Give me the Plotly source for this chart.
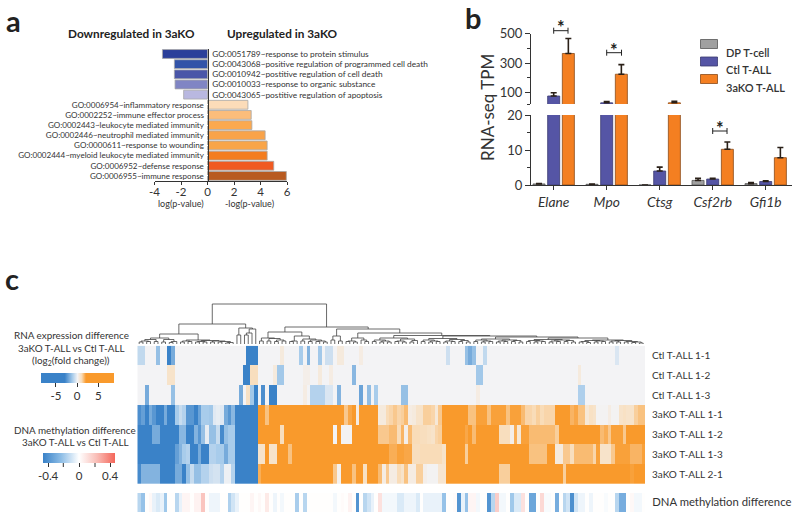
import plotly.graph_objects as go

FONT = "Lato"
INK = "#333333"

# panel a
go_down = [
    "GO:0051789~response to protein stimulus",
    "GO:0043068~positive regulation of programmed cell death",
    "GO:0010942~postitive regulation of cell death",
    "GO:0010033~response to organic substance",
    "GO:0043065~postitive regulation of apoptosis",
]
go_up = [
    "GO:0006954~inflammatory response",
    "GO:0002252~immune effector process",
    "GO:0002443~leukocyte mediated immunity",
    "GO:0002446~neutrophil mediated immunity",
    "GO:0000611~response to wounding",
    "GO:0002444~myeloid leukocyte mediated immunity",
    "GO:0006952~defense response",
    "GO:0006955~immune response",
]
down_vals = [-3.4, -2.5, -2.5, -2.45, -1.8]
up_vals = [3.05, 3.3, 3.35, 4.35, 4.5, 4.5, 5.0, 5.95]
down_colors = ["#2b3f9a", "#3253a8", "#4a56a8", "#8085c4", "#b9b8e0"]
up_colors = ["#fcdcb9", "#fbbd7b", "#fba94f", "#f9a349", "#f9a548", "#f47d1f", "#f05a22", "#b85a20"]

# panel b
genes = ["<i>Elane</i>", "<i>Mpo</i>", "<i>Ctsg</i>", "<i>Csf2rb</i>", "<i>Gfi1b</i>"]
dp_vals = [0.3, 0.2, 0, 1.3, 0.4]
dp_err = [0.1, 0.05, 0, 0.6, 0.3]
ctl_vals = [78, 32, 4, 1.7, 1.0]
ctl_err = [22, 8, 1.1, 0.2, 0.2]
ko_vals = [365, 225, 32, 10.2, 7.8]
ko_err = [101, 65, 11, 2.1, 2.9]

# panel c
row_labels = ["Ctl T-ALL 1-1", "Ctl T-ALL 1-2", "Ctl T-ALL 1-3",
              "3aKO T-ALL 1-1", "3aKO T-ALL 1-2", "3aKO T-ALL 1-3", "3aKO T-ALL 2-1"]
ctl_1_1 = [
    -.8, -.8, 0, 0, 0, -1.5, 0, 0, -3, -2,
    0, 0, 0, 0, 0, 0, 0, 0, 0, 0,
    0, 0, 0, 0, 0, 0, 0, 0, 0, -3,
    -3, -3, 0, 0, 0, 0, 0, 0, .4, 0,
    0, 0, 0, -1.2, 0, -1.8, 0, 0, -1.3, 0,
    -.6, -.6, 0, .4, .4, 0, 0, 0, 0, .3,
    0, 0, 0, 0, 0, 0, 0, 0, 0, 0,
    0, 0, 0, 0, 0, 0, 0, 0, 0, 0,
    0, 0, -.6, 0, 0, 0, 0, -1.5, -2, -1.5,
    0, 0, -.8, 0, 0, 0, 0, 0, 0, 0,
    0, 0, 0, 0, 0, 0, 0, 0, 0, 0,
    0, 0, 0, 0, 0, 0, 0, 0, 0, 0,
    0, 0, 0, 0, 0, 0, 0, -.4, 0, 0,
    0, 0, 0, 0, 0,
]
ctl_1_2 = [
    0, 0, 0, 0, 0, 0, 0, 0, .7, .7,
    0, 0, 0, 0, 0, 0, 0, 0, 0, 0,
    0, 0, 0, 0, 0, 0, 0, 0, -3, -3,
    .9, .9, 0, 0, 0, 0, .4, -1.3, -1.3, 0,
    0, 0, 0, 0, .2, .2, 0, 0, .4, 0,
    0, .3, 0, 0, 0, 0, 0, -1.7, 0, 0,
    0, 0, 0, 0, 0, 0, 0, 0, 0, 0,
    0, 0, 0, 0, 0, 0, 0, 0, 0, 0,
    0, 0, 0, 0, 0, 0, 0, 0, 0, 0,
    -1.3, -1.3, 0, 0, 0, 0, 0, 0, 0, 0,
    0, 0, 0, 0, 0, 0, 0, 0, 0, 0,
    0, 0, 0, 0, 0, 0, 0, .4, 0, 0,
    0, 0, 0, 0, 0, 0, 0, 0, 0, 0,
    0, 0, 0, 0, 0,
]
ctl_1_3 = [
    0, 0, -2, 0, 0, 0, 0, 0, 0, -1.5,
    0, 0, 0, 0, 0, 0, 0, 0, 0, 0,
    0, 0, 0, 0, 0, 0, 0, -2, 0, .8,
    -1.3, -3, 0, -2.7, 0, -3, -3, 0, 0, 0,
    0, 0, 0, 0, .3, 0, -1, -1, -1, -1,
    -.4, -.4, 0, -1.8, 0, 0, 0, 0, 0, -2.2,
    0, -1.6, 0, -1.2, 0, 0, 0, 0, 0, 0,
    -1.5, -1.5, 0, 0, 0, 0, 0, 0, 0, 0,
    0, 0, 0, 0, 0, 0, 0, 0, 0, 0,
    .3, 0, 0, 0, 0, 0, 0, 0, 0, 0,
    0, 0, 0, 0, 0, 0, 0, 0, 0, 0,
    0, 0, 0, 0, 0, 0, 0, -1.1, -1.1, 0,
    0, 0, 0, 0, 0, 0, 0, 0, 0, 0,
    0, 0, 0, 0, 0,
]
ko_1_1 = [
    -2.7, -2.3, -3, -2, -2.5, -3, -3, -2, -3, -3,
    -1.2, -.7, -1, -2.5, -2.5, -3, -2.2, -1.2, -1.2, -1.3,
    -.3, -.2, -.3, -2, -2.5, -1.7, -3, -3, -3, -3,
    -3, -3, 2, 2, 1.4, 2, 2, 2, 2, 2,
    2, 2, 2, 2, 2, 2, 2, 2, 2, 2,
    2, 2, 2, 2, 2, 1.3, 1.8, 2, .3, 2,
    2, 2, 2, 2, .4, .4, 1, 1.1, 1.3, 1.1,
    1.2, 1.5, .3, .4, .7, .7, 1.2, 1.2, 1.1, .5,
    1.3, 2, 2, 2, 2, 2, 2, 2, 1.4, 1.4,
    1.9, 1.9, 1.9, 1.4, 1.9, 1.9, 1.9, 1.9, 1.4, 1.9,
    1.9, 1.9, 1.5, 1.1, 1.1, 1, 1.2, 1, 1.1, 1.1,
    1.1, 2, 2, 2, 2, 1.6, 1.8, 1.4, 1.4, .5,
    .8, .7, .05, .05, .05, .3, .05, .05, .7, .8,
    .7, .7, 1.2, 1.4, 1.4,
]
ko_1_2 = [
    -3, -3, -3, -3, -2, -2, -3, -3, -3, -3,
    -3, -1.7, -1.7, -3, -3, -1.8, -2.5, -1.5, -.2, -1.5,
    -1.5, -.7, -2.8, -1.5, -1.2, -1.2, -3, -3, -3, -3,
    -3, -3, 2, 2, 2, 2, 2, 2, .9, 2,
    2, 2, 2, 2, 2, 2, 2, 2, 2, 2,
    2, 2, 0, 2, .05, .05, .05, 2, 2, 2,
    2, 2, 2, 2, 1.3, 1.3, 1.3, 1.5, 1.5, 1,
    1.6, .2, 1.5, 1, 1, .9, .9, .8, .7, 1.1,
    1.2, 2, 2, 2, 2, 2, 2, 1.8, 2, 1.5,
    2, 2, 2, 2, 2, 2, .9, .9, .9, .2,
    1.7, .5, 1.9, 1.9, 1.5, 1.5, 1.5, 1.5, 1.5, 1.5,
    1.5, 1.2, 2, 2, 2, 2, 2, 2, 2, 2,
    2, 2, 2, 1.5, 1.7, 1.3, 1.9, 1.9, 1.9, 1.3,
    2, 2, 2, 2, 2,
]
ko_1_3 = [
    -3, -3, -3, -3, -3, -3, -3, -3, -3, -3,
    -2.3, -1.8, -1.2, -1, -3, -3, -2, -3, -3, -1,
    -1, -1.2, -1.2, -2, -1.2, -1.2, -3, -3, -3, -3,
    -3, -3, .7, .7, 2, .7, .7, 2, 2, 2,
    1.4, 2, 2, 2, 2, 2, 2, 2, 2, 2,
    2, 2, 2, 2, 2, 2, 2, 2, 2, 2,
    2, 2, 2, 2, 2, 2, 2, 1.7, 1.7, 1.9,
    1.9, 1.8, 1.8, .9, .9, 1, 1, 1, 1, 1,
    1, .7, 2, 2, 2, 2, 2, 1.2, 2, 2,
    2, 2, 2, 2, 2, 2, 2, 2, 2, 2,
    2, 2, 2, 2, 1.4, 1.4, 1.4, 1.4, 1.4, 2,
    2, .4, .4, 1.3, 1.3, .9, 1.5, 1.5, 1.5, 1.5,
    1.5, 1.1, 1.9, .7, .7, .7, 1.3, 1.9, 1.9, 1.9,
    1.9, 1.6, 1.6, 1.6, 1.9,
]
ko_2_1 = [
    -2.8, -1.8, -1.8, -1.8, -1.8, -1.8, -3, -3, -3, -3,
    -2, -2, -3, -1.5, -.7, -1.5, -1.5, -1, -1, -.6,
    -.5, -.5, -1, -.1, -.1, -1, -3, -3, -3, -3,
    -3, -3, 1.7, 2, 2, 2, 2, 2, 2, 2,
    2, 2, 2, 2, 2, 2, 2, 2, 2, 2,
    2, 2, 1.3, .1, 2, 2, 2, 1.4, 2, 2,
    .8, 2, 2, 2, 1.5, .3, 1.3, .3, .3, 1,
    .7, 1.4, .3, .3, 1.2, 1.2, .2, .05, .05, .05,
    .6, .6, 2, 2, 2, 2, 2, 2, 2, 2,
    2, 2, 2, 2, 2, 2, 1.2, 1.2, 1.2, 2,
    2, 2, 2, 2, 2, 2, 2, 2, 2, 2,
    2, 2, 2, 1.2, 2, 2, 2, 2, 2, 2,
    2, 2, 2, 2, 2, 2, 2, 2, 2, 2,
    2, 1.9, 2, 2, 2,
]
meth_diff = [
    -.15, -.22, 0, .02, -.05, -.08, -.05, -.2, 0, 0,
    -.15, -.05, .03, .03, 0, .04, .04, .2, 0, -.04,
    -.04, -.04, 0, 0, -.17, -.1, -.05, 0, 0, 0,
    .03, 0, .02, 0, .07, 0, -.04, 0, -.03, 0,
    0, 0, -.18, 0, -.15, 0, 0, 0, 0, 0,
    0, 0, -.03, 0, .01, 0, .04, 0, -.4, 0,
    -.15, -.1, -.05, 0, .1, -.03, -.03, -.03, -.03, -.08,
    -.08, -.04, -.04, -.04, -.08, 0, -.05, -.05, -.05, -.05,
    -.05, -.22, 0, 0, .01, -.4, -.05, -.22, .03, .03,
    -.03, 0, 0, -.4, -.15, .17, -.03, -.03, 0, -.2,
    -.08, -.08, .1, 0, -.33, -.33, 0, .13, -.02, -.02,
    0, -.3, 0, -.15, -.1, -.42, -.1, -.04, -.04, 0,
    -.04, 0, 0, 0, -.02, 0, 0, -.15, -.3, -.3,
    0, .02, -.03, -.03, 0,
]

# dendrogram: (merge height, left, right), leaves are column numbers
tree_a = (7, (5.5, (4, (3, 0, 1), (3.5, 2, 3)), (3.5, 4, 5)), (5.5, (3, 6, 7), (3.5, (2.5, 8, 9), 10)))
tree_b = (5, (4, (3, 11, 12), (3.5, 13, 14)),
          (4.5, (3.5, (3, 15, 16), (3, 17, 18)), (4, (3, 19, 20), (3.5, (3, 21, 22), (2.5, (2, 23, 24), 25)))))
tree_c = (17, (10, 26, 27), (16, (12, (10, 28, 29), 30), 31))
tree_d = (13, (7, (4, 32, 33), (6.5, (4, 34, 35), (5, (3.5, 36, 37), (4, 38, 39)))),
          (9, (4, (3.5, 40, 41), 42), (6, (4, 43, 44), (5, (3.5, 45, 46), (4, (3.5, 47, 48), (3, 49, 50))))))
tree_f = (9, (5, 51, 52), (4, 53, 54))
tree_h = (7, (4, (3.5, 55, 56), (3, 57, 58)), (5, 59, (3.5, 60, 61)))
tree_j = (7, (5, (3.5, 62, 63), (4, (3, 64, 65), (3, 66, 67))), (6, (4, (3.5, 68, 69), (3, 70, 71)), (4.5, (3, 72, 73), 74)))
tree_k1 = (6.5, (5, (3.5, 75, 76), (4, (3, 77, 78), (3.5, 79, 80))), (5.5, (4, (3, 81, 82), (3.5, 83, 84)), (4.5, (3.5, 85, 86), (3, 87, 88))))
tree_k3 = (6, (5, (3.5, 89, 90), (4, (3, 91, 92), (3.5, 93, 94))), (5, (4, (3, 95, 96), (3.5, 97, 98)), (4.5, (3.5, 99, 100), (3, 101, 102))))
tree_k5 = (5.5, (4.5, (3.5, 103, 104), (4, (3, 105, 106), (3.5, 107, 108))), (5, (4, (3, 109, 110), (3.5, 111, 112)), (4.5, (3.5, 113, 114), (3, 115, 116))))
tree_k6 = (5, (4.5, (3.5, (3, 117, 118), (2.5, 119, 120)), (4, (3, 121, 122), (3.5, 123, 124))),
           (4.5, (4, (3, 125, 126), (3, 127, 128)), (3.5, (3, 129, 130), (3, (2.5, 131, 132), (2, 133, 134)))))
tree_k = (9, tree_k1, (8, tree_k3, (7, tree_k5, tree_k6)))
tree = (41, (21, (11, tree_a, tree_b), tree_c),
        (18, tree_d, (16, tree_f, (12, tree_h, (9.5, tree_j, tree_k)))))


def fx(px):
    return px / 800


def fy(py):
    return 1 - py / 519


def walk(node, xs, ys):
    # returns x, height of the node and appends its three segments
    if not isinstance(node, tuple):
        return node, 1
    xl, hl = walk(node[1], xs, ys)
    xr, hr = walk(node[2], xs, ys)
    xs += [xl, xl, xr, xr, None]
    ys += [hl, node[0], node[0], hr, None]
    return (xl + xr) / 2, node[0]


fig = go.Figure()

# a
fig.add_trace(go.Bar(x=down_vals, y=go_down, orientation="h", width=0.87, xaxis="x", yaxis="y",
                     marker=dict(color=down_colors, line=dict(color="#a8a8a8", width=0.8)), showlegend=False))
fig.add_trace(go.Bar(x=up_vals, y=go_up, orientation="h", width=0.87, xaxis="x", yaxis="y2",
                     marker=dict(color=up_colors, line=dict(color="#a8a8a8", width=0.8)), showlegend=False))

# b, same bars on both halves of the broken axis
for xa, ya in (("x2", "y3"), ("x3", "y4")):
    for vals, errs, col, edge in (
        (dp_vals, dp_err, "#a0a0a0", "#555555"),
        (ctl_vals, ctl_err, "#5555a5", "#3a3a70"),
        (ko_vals, ko_err, "#f47f21", "#8a4a18"),
    ):
        fig.add_trace(go.Bar(
            x=genes, y=vals, xaxis=xa, yaxis=ya, showlegend=False,
            marker=dict(color=col, line=dict(color=edge, width=0.8)),
            error_y=dict(type="data", symmetric=False, array=errs, arrayminus=[0] * len(errs),
                         color="#2a2018", thickness=1.6, width=3),
        ))

# c
rna_scale = [
    [0, "#3a82c8"], [5.6 / 17.2, "#3a82c8"], [7.4 / 17.2, "#a8cceb"], [8.6 / 17.2, "#f3f3f5"],
    [9.6 / 17.2, "#f9dcb8"], [10.6 / 17.2, "#f99a2c"], [1, "#f99a2c"],
]
fig.add_trace(go.Heatmap(
    z=[ctl_1_1, ctl_1_2, ctl_1_3, ko_1_1, ko_1_2, ko_1_3, ko_2_1],
    y=row_labels, xaxis="x4", yaxis="y5", zmin=-8.6, zmax=8.6, colorscale=rna_scale,
    colorbar=dict(orientation="h", x=fx(40.7), xanchor="left", y=fy(373), yanchor="top",
                  len=73.3, lenmode="pixels", thickness=10, thicknessmode="pixels",
                  xpad=0, ypad=0, outlinewidth=0, tickvals=[-5, 0, 5], ticktext=["-5", "0", "5"],
                  ticks="outside", ticklen=4, tickcolor=INK, tickfont=dict(family=FONT, size=11.5, color=INK)),
))
fig.add_trace(go.Heatmap(
    z=[meth_diff], y=["DNA methylation difference"], xaxis="x5", yaxis="y6", zmin=-0.47, zmax=0.46,
    colorscale=[[0, "#3a82c8"], [0.25, "#8dbde6"], [0.5, "#ffffff"], [0.75, "#f9bdb6"], [1, "#f4665a"]],
    colorbar=dict(orientation="h", x=fx(42.7), xanchor="left", y=fy(453), yanchor="top",
                  len=72.3, lenmode="pixels", thickness=10, thicknessmode="pixels",
                  xpad=0, ypad=0, outlinewidth=0, tickvals=[-0.4, 0, 0.4], ticktext=["-0.4", "0", "0.4"],
                  ticks="outside", ticklen=4, tickcolor=INK, tickfont=dict(family=FONT, size=11.5, color=INK)),
))
den_x, den_y = [], []
walk(tree, den_x, den_y)
fig.add_trace(go.Scatter(x=den_x, y=den_y, mode="lines", xaxis="x6", yaxis="y7", showlegend=False,
                         line=dict(color="#444444", width=0.8)))

ax_font = dict(family=FONT, size=13, color=INK)
go_all = go_down + go_up
go_axis = dict(type="category", categoryorder="array", categoryarray=go_all, range=[12.5, -0.5],
               domain=[fy(181), fy(48.9)], anchor="free", position=fx(207.5), tickmode="array",
               showline=True, linecolor=INK, linewidth=1, ticks="outside", ticklen=2, tickcolor="white",
               showgrid=False)
col_range = [-0.5, 134.5]
col_domain = [fx(137.3), fx(645)]
hidden = dict(visible=False, showgrid=False, zeroline=False)
row_tick = dict(ticks="outside", ticklen=4, tickcolor="white", showline=False, showgrid=False, side="right")
x_b = dict(domain=[fx(531), fx(792)], range=[-0.428, 4.496], type="category",
           categoryorder="array", categoryarray=genes)

shapes = []
# significance brackets
for x0, x1, py in ((0, 0.27, 30.7), (1, 1.28, 52.7), (3, 3.27, 131)):
    path = f"M {x0} {fy(py - 3)} L {x0} {fy(py + 3)} M {x0} {fy(py)} L {x1} {fy(py)} M {x1} {fy(py - 3)} L {x1} {fy(py + 3)}"
    shapes.append(dict(type="path", path=path, xref="x3", yref="paper", line=dict(color="#222222", width=1)))
# the unlabelled ticks of the methylation colour key
for px in (63.3, 95):
    shapes.append(dict(type="line", xref="paper", yref="paper", x0=fx(px), x1=fx(px), y0=fy(463), y1=fy(467),
                       line=dict(color=INK, width=1)))

notes = [
    ("a", 13, 20, 29, "bold"), ("b", 473, 18, 29, "bold"), ("c", 12, 278, 29, "bold"),
    ("Downregulated in 3aKO", 131, 33, 11.8, "bold"), ("Upregulated in 3aKO", 282, 33, 11.8, "bold"),
    ("log(p-value)", 181, 203, 9, "normal"), ("-log(p-value)", 249, 203, 9, "normal"),
    ("RNA expression difference", 71, 335, 9.9, "normal"),
    ("3aKO T-ALL vs Ctl T-ALL", 71, 347.5, 9.9, "normal"),
    ("(log<sub>2</sub>(fold change))", 71, 360, 9.9, "normal"),
    ("DNA methylation difference", 75, 430, 9.9, "normal"),
    ("3aKO T-ALL vs Ctl T-ALL", 75, 442, 9.9, "normal"),
]
annotations = [
    dict(text=t, x=fx(px), y=fy(py), xref="paper", yref="paper", showarrow=False, xanchor="center",
         yanchor="middle", font=dict(family=FONT, size=s, color=INK if w == "normal" else "#222222", weight=w))
    for t, px, py, s, w in notes
]
annotations.append(dict(text="RNA-seq TPM", x=fx(487), y=fy(108), xref="paper", yref="paper", showarrow=False,
                        xanchor="center", yanchor="middle", textangle=-90,
                        font=dict(family=FONT, size=17, color=INK)))
for xc, py in ((0.135, 27), (1.14, 50), (3.135, 128)):
    annotations.append(dict(text="*", x=xc, y=fy(py), xref="x3", yref="paper", showarrow=False, yanchor="middle",
                            font=dict(family=FONT, size=18, color="#222222", weight="bold")))
# legend of panel b
for name, col, edge, py in (("DP T-cell", "#a0a0a0", "#555555", 44),
                            ("Ctl T-ALL", "#5555a5", "#3a3a70", 61.5),
                            ("3aKO T-ALL", "#f47f21", "#8a4a18", 79)):
    shapes.append(dict(type="rect", xref="paper", yref="paper", x0=fx(700.5), x1=fx(717.5),
                       y0=fy(py + 4.5), y1=fy(py - 4.5), fillcolor=col, line=dict(color=edge, width=0.8)))
    annotations.append(dict(text=name, x=fx(724), y=fy(py), xref="paper", yref="paper", showarrow=False,
                            xanchor="left", font=dict(family=FONT, size=11, color=INK, weight=600)))

fig.update_layout(
    width=800, height=519, margin=dict(l=0, r=0, t=0, b=0, autoexpand=False), autosize=False,
    paper_bgcolor="white", plot_bgcolor="white",
    font=dict(family=FONT, color=INK), showlegend=False,
    barmode="group", bargap=0.17, bargroupgap=0.18,
    shapes=shapes, annotations=annotations,
    xaxis=dict(domain=[fx(154.5), fx(287)], range=[-4, 6], anchor="y", showline=True, linecolor=INK,
               linewidth=1, ticks="outside", ticklen=3, tickcolor=INK, tickmode="array",
               tickvals=[-4, -2, 0, 2, 4, 6], ticktext=["-4", "-2", "0", "2", "4", "6"],
               ticklabelstandoff=-3,
               tickfont=dict(family=FONT, size=11.5, color=INK), showgrid=False, zeroline=False),
    yaxis=dict(go_axis, side="right", tickvals=go_down, tickfont=dict(family=FONT, size=8.3, color=INK)),
    yaxis2=dict(go_axis, side="left", overlaying="y", tickvals=go_up,
                tickfont=dict(family=FONT, size=8.05, color=INK)),
    xaxis2=dict(x_b, anchor="y3", visible=False),
    yaxis3=dict(domain=[fy(104), fy(33.5)], range=[24, 500], anchor="x2", showline=True, linecolor=INK,
                linewidth=1.2, ticks="outside", ticklen=5, tickcolor=INK, tickvals=[100, 300, 500],
                ticktext=["100", "300", "500"], tickfont=ax_font, showgrid=False, zeroline=False,
                minor=dict(tickvals=[24, 200, 400], ticks="outside", ticklen=3, tickcolor=INK)),
    xaxis3=dict(x_b, anchor="y4", showline=True, linecolor=INK, linewidth=1.2, ticks="outside", ticklen=4,
                tickcolor=INK, tickfont=dict(family=FONT, size=13.8, color=INK), showgrid=False),
    yaxis4=dict(domain=[fy(185), fy(115)], range=[0, 20], anchor="x3", showline=True, linecolor=INK,
                linewidth=1.2, ticks="outside", ticklen=5, tickcolor=INK, tickvals=[0, 10, 20],
                tickfont=ax_font, showgrid=False, zeroline=False,
                minor=dict(tickvals=[5, 15], ticks="outside", ticklen=3, tickcolor=INK)),
    xaxis4=dict(hidden, domain=col_domain, range=col_range, anchor="y5"),
    yaxis5=dict(row_tick, domain=[fy(484), fy(345.7)], autorange="reversed", anchor="x4", type="category",
                tickfont=dict(family=FONT, size=10, color=INK)),
    xaxis5=dict(hidden, domain=col_domain, range=col_range, anchor="y6"),
    yaxis6=dict(row_tick, domain=[fy(512), fy(493)], anchor="x5", type="category",
                tickfont=dict(family=FONT, size=11.3, color=INK)),
    xaxis6=dict(hidden, domain=col_domain, range=col_range, anchor="y7"),
    yaxis7=dict(hidden, domain=[fy(345), fy(302)], range=[0, 43], anchor="x6"),
)

# page margin off so the figure sits at the window corner
fig.write_html("out.html", config=dict(displayModeBar=False),
               post_script="document.body.style.margin='0';")
